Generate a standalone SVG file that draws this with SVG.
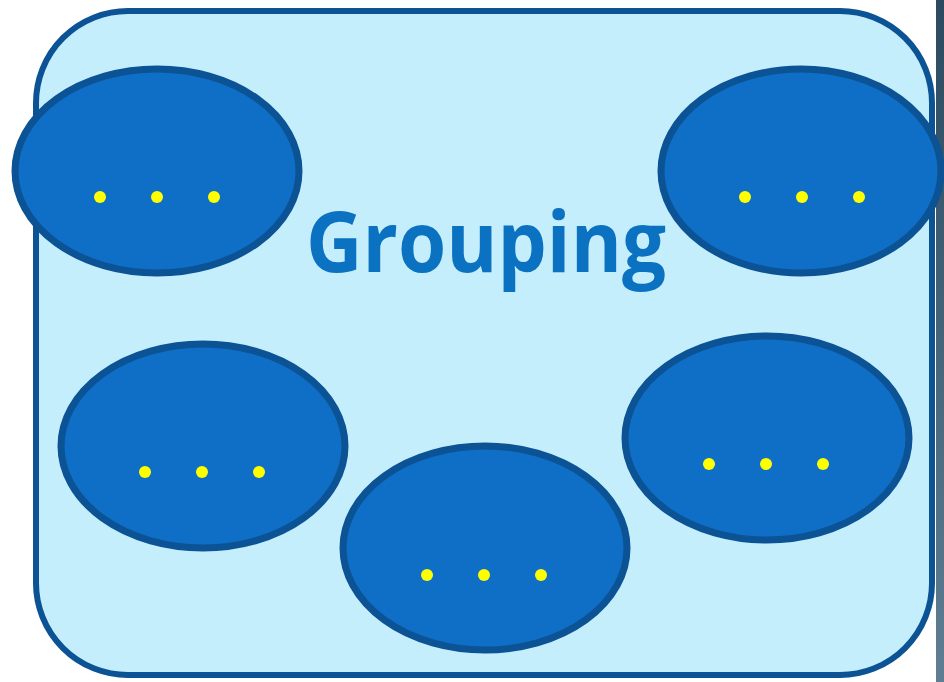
<svg xmlns="http://www.w3.org/2000/svg" width="944" height="682" viewBox="0 0 944 682">
<defs>
<linearGradient id="edge" x1="0" y1="0" x2="0" y2="1">
<stop offset="0" stop-color="#2C4A5F"/>
<stop offset="1" stop-color="#5F7E94"/>
</linearGradient>
</defs>
<style>
.grp{fill:#C5EEFD;stroke:#0B5394;stroke-width:6}
.node{fill:#0F6EC6;stroke:#0B5394;stroke-width:7}
.dot{fill:#FFFF00}
.title{font-family:"Open Sans","Noto Sans",sans-serif;font-weight:bold;font-size:84px;fill:#0B72C2}
</style>
<rect x="936" y="0" width="8" height="682" fill="url(#edge)"/>
<g id="grouping">
<rect class="grp" x="36" y="11" width="896" height="664" rx="92" ry="92"/>
</g>
<g id="connectors"></g>
<g id="node1">
<ellipse class="node" cx="157" cy="171" rx="142" ry="102"/>
<circle class="dot" cx="100" cy="197" r="6"/><circle class="dot" cx="157" cy="197" r="6"/><circle class="dot" cx="214" cy="197" r="6"/>
</g>
<g id="node2">
<ellipse class="node" cx="801" cy="171" rx="140" ry="102"/>
<circle class="dot" cx="745" cy="197" r="6"/><circle class="dot" cx="802" cy="197" r="6"/><circle class="dot" cx="859" cy="197" r="6"/>
</g>
<g id="node3">
<ellipse class="node" cx="203" cy="446" rx="142" ry="102"/>
<circle class="dot" cx="145" cy="472" r="6"/><circle class="dot" cx="202" cy="472" r="6"/><circle class="dot" cx="259" cy="472" r="6"/>
</g>
<g id="node4">
<ellipse class="node" cx="485" cy="548" rx="142" ry="102"/>
<circle class="dot" cx="427" cy="575" r="6"/><circle class="dot" cx="484" cy="575" r="6"/><circle class="dot" cx="541" cy="575" r="6"/>
</g>
<g id="node5">
<ellipse class="node" cx="767" cy="438" rx="142" ry="102"/>
<circle class="dot" cx="709" cy="464" r="6"/><circle class="dot" cx="766" cy="464" r="6"/><circle class="dot" cx="823" cy="464" r="6"/>
</g>
<text class="title" x="486" y="272" text-anchor="middle" textLength="360" lengthAdjust="spacingAndGlyphs">Grouping</text>
</svg>
